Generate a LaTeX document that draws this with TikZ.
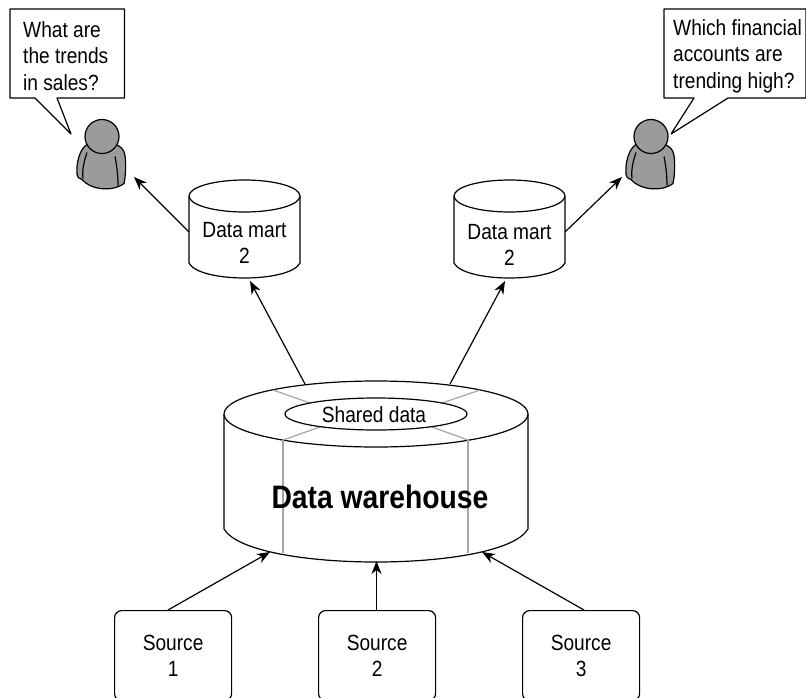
\documentclass[tikz,border=0pt]{standalone}
\usepackage{fontspec}
\setmainfont[FakeStretch=0.87]{Liberation Sans}
\usetikzlibrary{arrows.meta}
\definecolor{persongray}{RGB}{155,155,155}
\tikzset{
  x=1pt,y=-1pt,
  lbl/.style={font=\fontsize{22}{26}\selectfont,align=center,inner sep=0pt},
  lblleft/.style={font=\fontsize{22}{26.5}\selectfont,align=left,inner sep=0pt,anchor=north west},
  ln/.style={draw=black,line width=1.2pt,line join=round},
  thin gray/.style={draw=black!35,line width=1.2pt},
  arr/.style={draw=black,line width=1.2pt,-{Stealth[length=13pt,width=10pt,inset=4pt]}},
  srcbox/.style={ln,rounded corners=7pt,minimum width=117pt,minimum height=90pt,anchor=north west,fill=white,font=\fontsize{22}{26}\selectfont,align=center,inner sep=0pt},
}
\newcommand{\personshape}[2]{%
  \begin{scope}[shift={(#1,#2)}]
    \draw[ln,fill=persongray] (-15,8) .. controls (-22,12) and (-26,26) .. (-25,38)
      .. controls (-25,41) and (-23,42) .. (-20,43)
      .. controls (-12,53) and (10,56) .. (22,47)
      .. controls (24,38) and (24,26) .. (23,19)
      .. controls (22,12) and (18,10) .. (14,8) -- cycle;
    \draw[ln] (-15,16) .. controls (-18,25) and (-20,33) .. (-19,42);
    \draw[ln] (13,20) .. controls (15,30) and (16,40) .. (16,49);
    \draw[ln,fill=persongray] (0,0) circle[radius=17];
  \end{scope}}
\newcommand{\cylshape}[2]{%
  \begin{scope}[shift={(#1,#2)}]
    \draw[ln,fill=white] (-55.5,0) -- (-55.5,67) .. controls (-45,87) and (45,87) .. (55.5,67) -- (55.5,0);
    \draw[ln,fill=white] (0,0) ellipse[x radius=55.5,y radius=16];
  \end{scope}}
\begin{document}
\begin{tikzpicture}
\useasboundingbox (0,0) rectangle (806,697);
\clip (0,0) rectangle (806,697);
% callouts
\draw[ln,fill=white] (10,9) -- (124.5,9) -- (124.5,98) -- (57,98) -- (71,134) -- (35,98) -- (10,98) -- cycle;
\node[lblleft] (q1) at (23,21) {What are\\the trends\\in sales?};
\draw[ln,fill=white] (664,9) -- (806,9) -- (806,98) -- (728,98) -- (671,134) -- (694,98) -- (664,98) -- cycle;
\node[lblleft] (q2) at (673,19) {Which financial\\accounts are\\trending high?};
% persons
\personshape{102}{136.5}
\personshape{651}{136.5}
\coordinate (p1) at (134,177);
\coordinate (p2) at (622,177);
% marts
\cylshape{244.5}{196}
\cylshape{509.5}{196}
\node[lbl] (m1) at (244.5,243) {Data mart\\2};
\node[lbl] (m2) at (509.5,244.5) {Data mart\\2};
\coordinate (m1l) at (189,232);
\coordinate (m2r) at (565,232);
\coordinate (m1b) at (250,281);
\coordinate (m2b) at (505,281);
% warehouse
\draw[ln,fill=white] (224,414) -- (224,529) .. controls (250,573) and (502,573) .. (528,529) -- (528,414);
\draw[ln,fill=white] (376,414) ellipse[x radius=152,y radius=33];
\draw[thin gray] (273,390) -- (310,403) (480,390) -- (442,403) (283,440) -- (320,427) (468,440) -- (432,427);
\draw[thin gray] (283,440) -- (283,553) (468,440) -- (468,553);
\draw[ln] (376,414) ellipse[x radius=91,y radius=16];
\node[lbl] (sd) at (374,415) {Shared data};
\node[inner sep=0pt,font=\fontsize{32.5}{36}\bfseries\selectfont] (dw) at (380,497) {Data warehouse};
\coordinate (w1) at (305,384);
\coordinate (w2) at (450,384);
\coordinate (w3) at (270,552);
\coordinate (w4) at (376.5,561);
\coordinate (w5) at (482,552);
% sources
\node[srcbox] (s1) at (114,610) {Source\\1};
\node[srcbox] (s2) at (318,610) {Source\\2};
\node[srcbox] (s3) at (522,610) {Source\\3};
% arrows
\draw[arr] (168,610) -- (w3);
\draw[arr] (376.5,610) -- (w4);
\draw[arr] (584,610) -- (w5);
\draw[arr] (w1) -- (m1b);
\draw[arr] (w2) -- (m2b);
\draw[arr] (m1l) -- (p1);
\draw[arr] (m2r) -- (p2);
\end{tikzpicture}
\end{document}
